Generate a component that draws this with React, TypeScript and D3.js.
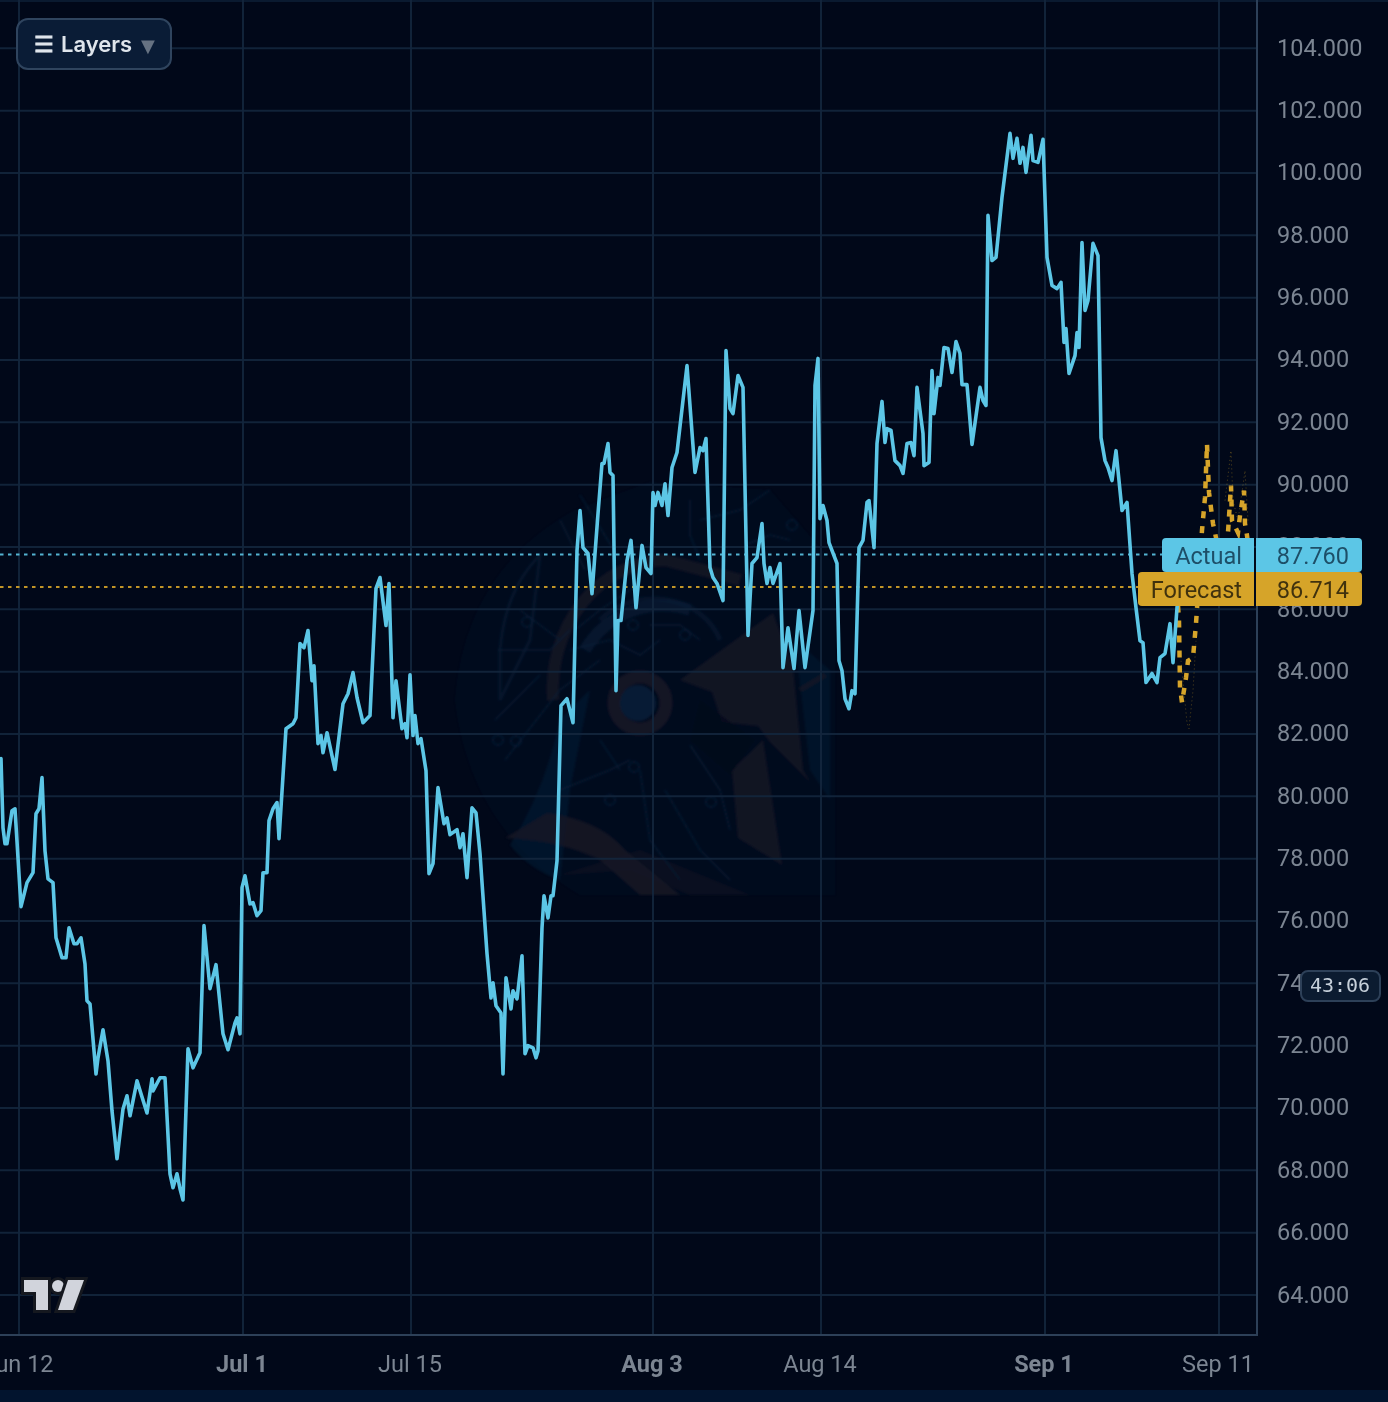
import * as d3 from "d3"

// bar number on the time axis and price
const bars = [
  1, 2, 3, 4, 6.5, 8, 11, 14, 17, 18.5, 20, 21.5,
  23, 24.5, 27, 28.5, 31.5, 33.5, 35, 37.5, 39, 41, 43, 44,
  45.5, 48.5, 49.5, 52, 54.5, 56.5, 59, 62, 64, 65.5, 69, 74,
  76.5, 77, 80.5, 83, 85.5, 87, 89, 90.5, 92, 94.5, 97, 100.5,
  102.5, 105.5, 108.5, 112, 114.5, 118, 119, 120.5, 121.5, 123, 125.5, 127,
  129, 131, 132, 134, 135, 137, 139, 140, 143.5, 147, 148.5, 150.5,
  152.5, 154.5, 156.5, 157.5, 159.5, 161, 162, 164, 168, 172, 174.5, 177,
  179, 182, 185.5, 188.5, 190.5, 193.5, 195, 197, 198.5, 201.5, 203, 204,
  205.5, 207, 208, 209.5, 211, 213.5, 215, 217, 219.5, 222.5, 224, 225.5,
  229, 230.5, 232, 234, 236.5, 238.5, 240.5, 244, 246, 247, 248.5, 251,
  252, 253.5, 256, 257, 259, 261.5, 263, 264.5, 267, 268.5, 269.5, 271.5,
  272.5, 274.5, 276, 277, 279, 281, 284, 287, 289, 290.5, 292, 294.5,
  296.5, 299.5, 301.5, 302.5, 304.5, 305.5, 307, 308.5, 309.5, 311, 314, 316,
  318.5, 321.5, 323.5, 326, 327, 328, 329.5, 331.5, 333, 334.5, 336.5, 339,
  344, 348, 350.5, 352, 353.5, 355.5, 357, 359, 362, 363.5, 365.5, 367,
  369.5, 372, 374.5, 376.5, 379, 381.5, 382.5, 384, 385.5, 387, 390.5, 392,
  394.5, 397.5, 400, 403, 407, 408, 409.5, 410.5, 412, 414, 415, 419,
  420, 421.5, 423, 425, 426.5, 428, 430, 432, 434, 435, 437.5, 439,
  441.5, 443, 444, 446, 448, 450.5, 452, 454, 456, 457.5, 459, 462,
  462.5, 465, 466.5, 467.5, 469.5, 470.5, 472.5, 474.5, 476.5, 478.5, 480.5, 481.5,
  484, 486.5, 490.5, 492, 493.5, 494.5, 496.5, 498.5, 501.5, 503, 505.5, 507,
  509, 510.5, 512, 513.5, 516, 517, 519.5, 522, 524, 526.5, 529, 531,
  532.5, 533.5, 535, 538, 539, 540, 541.5, 543, 544.5, 547, 549.5, 551,
  553, 554.5, 556.5, 558.5, 561.5, 564, 566.5, 568.5, 570.5, 572, 573.5, 576.5,
  579, 580.5, 583, 585.5, 587, 589, 590.5,
]
const closes = [
  81.21, 78.99, 78.48, 78.48, 79.54, 79.6, 76.46, 77.23, 77.55, 79.44, 79.6, 80.6,
  78.25, 77.35, 77.23, 75.46, 74.82, 74.82, 75.78, 75.27, 75.27, 75.46, 74.62, 73.44,
  73.34, 71.09, 71.61, 72.51, 71.51, 69.91, 68.37, 69.97, 70.39, 69.75, 70.87, 69.84,
  70.94, 70.55, 70.97, 70.97, 67.89, 67.44, 67.89, 67.41, 67.05, 71.9, 71.29, 71.77,
  75.85, 73.83, 74.6, 72.38, 71.87, 72.73, 72.89, 72.38, 77.07, 77.45, 76.55, 76.59,
  76.17, 76.33, 77.55, 77.55, 79.22, 79.6, 79.8, 78.64, 82.17, 82.33, 82.52, 84.9,
  84.77, 85.32, 83.71, 84.19, 81.69, 81.95, 81.4, 82.04, 80.86, 82.97, 83.29, 83.97,
  83.17, 82.36, 82.59, 86.67, 87.02, 85.48, 86.83, 82.52, 83.71, 82.17, 82.33, 81.88,
  83.9, 81.95, 82.59, 81.69, 81.85, 80.82, 77.52, 77.84, 80.28, 79.12, 79.31, 78.77,
  78.93, 78.35, 78.8, 77.39, 79.63, 79.47, 78.16, 74.95, 73.53, 74.02, 73.28, 73.05,
  71.09, 74.18, 73.18, 73.76, 73.5, 74.88, 71.74, 72.0, 71.93, 71.61, 71.83, 75.78,
  76.81, 76.1, 76.81, 76.81, 77.93, 82.91, 83.13, 82.36, 87.88, 89.17, 87.98, 87.79,
  86.5, 89.07, 90.68, 90.68, 91.32, 90.39, 90.29, 83.39, 85.64, 85.64, 87.56, 88.21,
  86.05, 88.05, 87.34, 87.15, 89.75, 89.33, 89.75, 89.33, 90.03, 89.01, 90.55, 91.03,
  93.82, 90.39, 91.19, 91.09, 91.48, 87.34, 87.02, 86.83, 86.28, 94.3, 92.44, 92.28,
  93.5, 93.12, 85.16, 87.47, 87.66, 88.75, 87.47, 86.83, 87.34, 86.83, 87.47, 84.13,
  85.41, 84.1, 85.96, 84.13, 85.96, 93.18, 94.05, 88.91, 89.33, 88.85, 88.14, 87.47,
  84.35, 84.03, 83.13, 82.81, 83.39, 83.29, 87.98, 88.21, 89.43, 89.49, 87.98, 91.32,
  92.67, 91.35, 91.8, 91.74, 90.77, 90.61, 90.36, 91.32, 91.35, 90.93, 93.12, 91.64,
  90.61, 90.71, 93.66, 92.28, 93.44, 93.18, 94.4, 94.37, 93.6, 94.59, 94.21, 93.21,
  93.21, 91.29, 93.12, 92.7, 92.54, 98.64, 97.19, 97.29, 99.22, 99.99, 101.27, 100.47,
  101.11, 100.31, 100.82, 100.02, 101.21, 100.4, 100.34, 101.08, 97.29, 96.39, 96.29, 96.49,
  94.56, 95.01, 93.57, 94.14, 94.88, 94.4, 97.77, 95.59, 95.91, 97.74, 97.35, 91.51,
  90.77, 90.55, 90.13, 91.09, 89.17, 89.43, 87.15, 86.05, 84.99, 84.93, 83.65, 83.94,
  83.65, 84.45, 84.58, 85.54, 84.29, 86.05, 86.6,
]

const forecastBars = [
  589.5, 590, 590.5, 591.5, 593.5, 594.5, 597, 598.5, 599, 601.5, 603, 604, 605,
  607, 608.5, 611.5, 613.5, 614.5, 616, 616.5, 619.5, 620.5, 622.5, 623, 624, 625.5,
]
const forecast = [
  86.12, 85.64, 83.49, 83.01, 83.81, 84.35, 84.45, 85.54, 86.02, 88.53, 89.59, 91.3, 89.75,
  88.75, 88.3, 87.08, 87.08, 88.46, 89.97, 88.85, 88.46, 89.01, 89.81, 88.75, 88.37, 87.56,
]
const lowerBars = [591, 594, 595, 597, 598.5]
const lowerBand = [84.35, 82.36, 82.17, 83.39, 84.99]
const upperBars = [613, 616, 617, 619.5, 623, 624.5]
const upperBand = [89.49, 91.09, 89.49, 88.85, 90.45, 88.85]

const priceTicks = d3.range(64, 105, 2)
const timeTickBars = [10, 122, 206, 327, 411, 523, 610]
const timeTickLabels = ["Jun 12", "Jul 1", "Jul 15", "Aug 3", "Aug 14", "Sep 1", "Sep 11"]
const timeTickMajor = [false, true, false, true, false, true, false]

const actualPrice = 87.76
const forecastPrice = 86.714
const countdown = "43:06"

const W = 1388
const H = 1402
const plotRight = 1257
const plotBottom = 1335

const BG = "#010819"
const GRID = "#13263d"
const AXIS = "#2d4058"
const LABEL = "#7b8592"
const CYAN = "#5cc6e6"
const GOLD = "#d6a429"
const FONT = "Roboto, sans-serif"

const x = d3.scaleLinear().domain([0, 629]).range([-1, plotRight])
const y = d3.scaleLinear().domain([64, 104]).range([1295, 48.3])
const fmt = d3.format(".3f")

const pathOf = (xs: number[], ys: number[]) =>
  d3.line<number>()
    .x((d) => x(d))
    .y((_, i) => y(ys[i]))(xs) ?? ""

// faint helmet logo behind the plot, traced by eye
function Watermark() {
  const blue = "#0d3355"
  const brown = "#2a2430"
  const circuits = [
    "M505 760 L560 690 L600 660", "M495 720 L540 675", "M498 650 L550 650 L570 630",
    "M520 610 L560 640", "M570 650 L610 640 L640 655 L660 640", "M650 625 L680 625 L700 640",
    "M575 630 L600 610 L630 590", "M640 770 L650 840 L680 880", "M665 790 L700 850 L730 880",
    "M690 745 L720 790 L730 830", "M560 790 L610 770 L630 760", "M600 740 L620 770",
    "M690 500 L690 535 L700 560", "M770 490 L740 510 L700 520", "M790 540 L770 535 L745 545",
    "M580 495 L620 560", "M560 520 L585 570",
  ]
  const nodes: [number, number][] = [
    [633, 625], [685, 635], [516, 741], [498, 740], [634, 767], [610, 800], [711, 802], [792, 525], [527, 622],
  ]
  return (
    <g filter="url(#soft)" opacity={0.55}>
      <path d="M455 700 Q465 570 575 510 L650 482 L770 490 L835 565 L835 895 L580 895 Q470 830 455 700Z"
        fill="#08233f" opacity={0.22} />
      <path d="M510 845 Q545 790 560 720 L590 690 L570 790 L560 880 Q530 870 510 845Z" fill="#073050" opacity={0.55} />
      <path d="M500 650 Q505 590 540 555 L530 640 L500 700Z" fill="none" stroke={blue} strokeWidth={3} opacity={0.5} />
      <path d="M553 700 A115 130 0 0 1 665 560 L740 580" fill="none" stroke={brown} strokeWidth={12} opacity={0.75} />
      <path d="M585 650 A90 90 0 0 1 690 610" fill="none" stroke="#0d3355" strokeWidth={12} opacity={0.55} />
      <path d="M600 620 A70 60 0 0 1 720 640" fill="none" stroke={blue} strokeWidth={5} opacity={0.45} />
      <circle cx={640} cy={703} r={26} fill="none" stroke={brown} strokeWidth={13} opacity={0.9} />
      <circle cx={638} cy={703} r={18} fill="#0c3358" opacity={0.8} />
      <path d="M680 680 L773 613 L793 668 L803 770 L810 782 L770 742 L758 726 L722 722 L712 692Z" fill={brown} opacity={0.75} />
      <path d="M732 770 L763 740 L782 865 L738 838Z" fill={brown} opacity={0.75} />
      <path d="M700 700 L755 740 L730 775 L690 740Z" fill="#000616" opacity={0.5} />
      <path d="M505 838 L547 813 Q600 820 625 850 L680 895 L640 895 L600 860 Q560 840 505 838Z" fill={brown} opacity={0.8} />
      <path d="M560 875 L640 850 L750 895 L690 895 L630 870Z" fill={brown} opacity={0.35} />
      <path d="M795 640 L830 670 L830 800 L810 770Z" fill={blue} opacity={0.4} />
      <path d="M800 690 L825 675" fill="none" stroke={brown} strokeWidth={5} opacity={0.7} />
      {circuits.map((d) => (
        <path key={d} d={d} fill="none" stroke={blue} strokeWidth={2} opacity={0.5} />
      ))}
      {nodes.map(([cx, cy]) => (
        <circle key={`${cx}-${cy}`} cx={cx} cy={cy} r={5} fill="none" stroke={blue} strokeWidth={2} opacity={0.6} />
      ))}
    </g>
  )
}

function PriceTag({ top, left, color, ink, label, value }: {
  top: number; left: number; color: string; ink: string; label: string; value: string
}) {
  const h = 34
  const mid = top + h / 2 + 9
  return (
    <g fontFamily={FONT} fontSize={23.5}>
      <path d={`M${left + 4} ${top}H1254V${top + h}H${left + 4}Q${left} ${top + h} ${left} ${top + h - 4}V${top + 4}Q${left} ${top} ${left + 4} ${top}Z`} fill={color} />
      <path d={`M1256 ${top}H1358Q1362 ${top} 1362 ${top + 4}V${top + h - 4}Q1362 ${top + h} 1358 ${top + h}H1256Z`} fill={color} />
      <g filter="url(#textSoft)">
        <text x={1242} y={mid} textAnchor="end" fill={ink}>{label}</text>
        <text x={1349} y={mid} textAnchor="end" fill={ink}>{value}</text>
      </g>
    </g>
  )
}

export default function App() {
  return (
    <svg width={W} height={H} viewBox={`0 0 ${W} ${H}`}
      style={{ position: "absolute", left: 0, top: 0, background: BG, display: "block" }}>
      <defs>
        <clipPath id="plot"><rect x={0} y={0} width={plotRight} height={plotBottom} /></clipPath>
        <filter id="soft" x="-5%" y="-5%" width="110%" height="110%"><feGaussianBlur stdDeviation={1.2} /></filter>
        <filter id="lineSoft" filterUnits="userSpaceOnUse" x={0} y={0} width={W} height={H}><feGaussianBlur stdDeviation={0.5} /></filter>
        <filter id="textSoft" filterUnits="userSpaceOnUse" x={0} y={0} width={W} height={H}><feGaussianBlur stdDeviation={0.4} /></filter>
      </defs>

      <rect x={0} y={0} width={W} height={2} fill="#0a1a30" />
      <rect x={0} y={1390} width={W} height={12} fill="#02142e" />

      <g clipPath="url(#plot)">
        <Watermark />
        {priceTicks.map((t) => (
          <line key={t} x1={0} x2={plotRight} y1={y(t)} y2={y(t)} stroke={GRID} strokeWidth={2} opacity={0.9} />
        ))}
        {timeTickBars.map((b) => (
          <line key={b} x1={x(b)} x2={x(b)} y1={0} y2={plotBottom} stroke={GRID} strokeWidth={2} opacity={0.9} />
        ))}

        <line x1={0} x2={plotRight} y1={y(actualPrice)} y2={y(actualPrice)} stroke={CYAN} strokeWidth={2} strokeDasharray="3.5 4.5" opacity={0.9} />
        <line x1={0} x2={plotRight} y1={y(forecastPrice)} y2={y(forecastPrice)} stroke={GOLD} strokeWidth={2} strokeDasharray="3.5 4.5" opacity={0.9} />

        <g filter="url(#lineSoft)">
          <path d={pathOf(lowerBars, lowerBand)} fill="none" stroke={GOLD} strokeWidth={1} strokeDasharray="1 3" opacity={0.4} />
          <path d={pathOf(upperBars, upperBand)} fill="none" stroke={GOLD} strokeWidth={1} strokeDasharray="1 3" opacity={0.4} />
          <path d={pathOf(forecastBars, forecast)} fill="none" stroke={GOLD} strokeWidth={4.5} strokeDasharray="7 8" />
          <path d={pathOf(bars, closes)} fill="none" stroke={CYAN} strokeWidth={3.6} strokeLinejoin="round" strokeLinecap="round" />
        </g>
      </g>

      <line x1={plotRight} x2={plotRight} y1={0} y2={plotBottom + 1} stroke={AXIS} strokeWidth={2} />
      <line x1={0} x2={plotRight} y1={plotBottom} y2={plotBottom} stroke={AXIS} strokeWidth={2} />

      <g fontFamily={FONT} fontSize={23.5} fill={LABEL} filter="url(#textSoft)">
        {priceTicks.map((t) => (
          <text key={t} x={1277} y={y(t) + 7.5}>{fmt(t)}</text>
        ))}
        {timeTickBars.map((b, i) => (
          <text key={b} x={x(b) - 1} y={1372} textAnchor="middle" fontWeight={timeTickMajor[i] ? 700 : 400}>
            {timeTickLabels[i]}
          </text>
        ))}
      </g>

      <PriceTag top={538} left={1162} color={CYAN} ink="#1f4f68" label="Actual" value={fmt(actualPrice)} />
      <PriceTag top={572} left={1138} color={GOLD} ink="#41320f" label="Forecast" value={fmt(forecastPrice)} />

      <rect x={1301} y={971} width={79} height={30} rx={7} fill="#0b1b30" stroke={AXIS} strokeWidth={2} />
      <text x={1340} y={992} textAnchor="middle" fontFamily="'DejaVu Sans Mono', monospace" fontSize={20} fill="#c6d0da">{countdown}</text>

      <rect x={17} y={19} width={154} height={50} rx={11} fill="#0a1c36" stroke="#2f445e" strokeWidth={2} />
      <text x={34} y={52} fontFamily="'DejaVu Sans', sans-serif" fontSize={22} fill="#dfe5ec" stroke="#dfe5ec" strokeWidth={0.9}>☰</text>
      <text x={61} y={52} fontFamily="Inter, sans-serif" fontSize={22} fontWeight={600} fill="#dfe5ec">Layers</text>
      <text x={141} y={52} fontFamily="'DejaVu Sans', sans-serif" fontSize={18} fill="#667282">▼</text>

      <g fill="#d1d4dc" stroke="#15181f" strokeWidth={6} paintOrder="stroke" strokeLinejoin="miter">
        <path d="M24 1280H48V1310H36V1292H24Z" />
        <circle cx={58} cy={1286} r={6} />
        <path d="M68 1280H84L73 1310H58Z" />
      </g>
    </svg>
  )
}
